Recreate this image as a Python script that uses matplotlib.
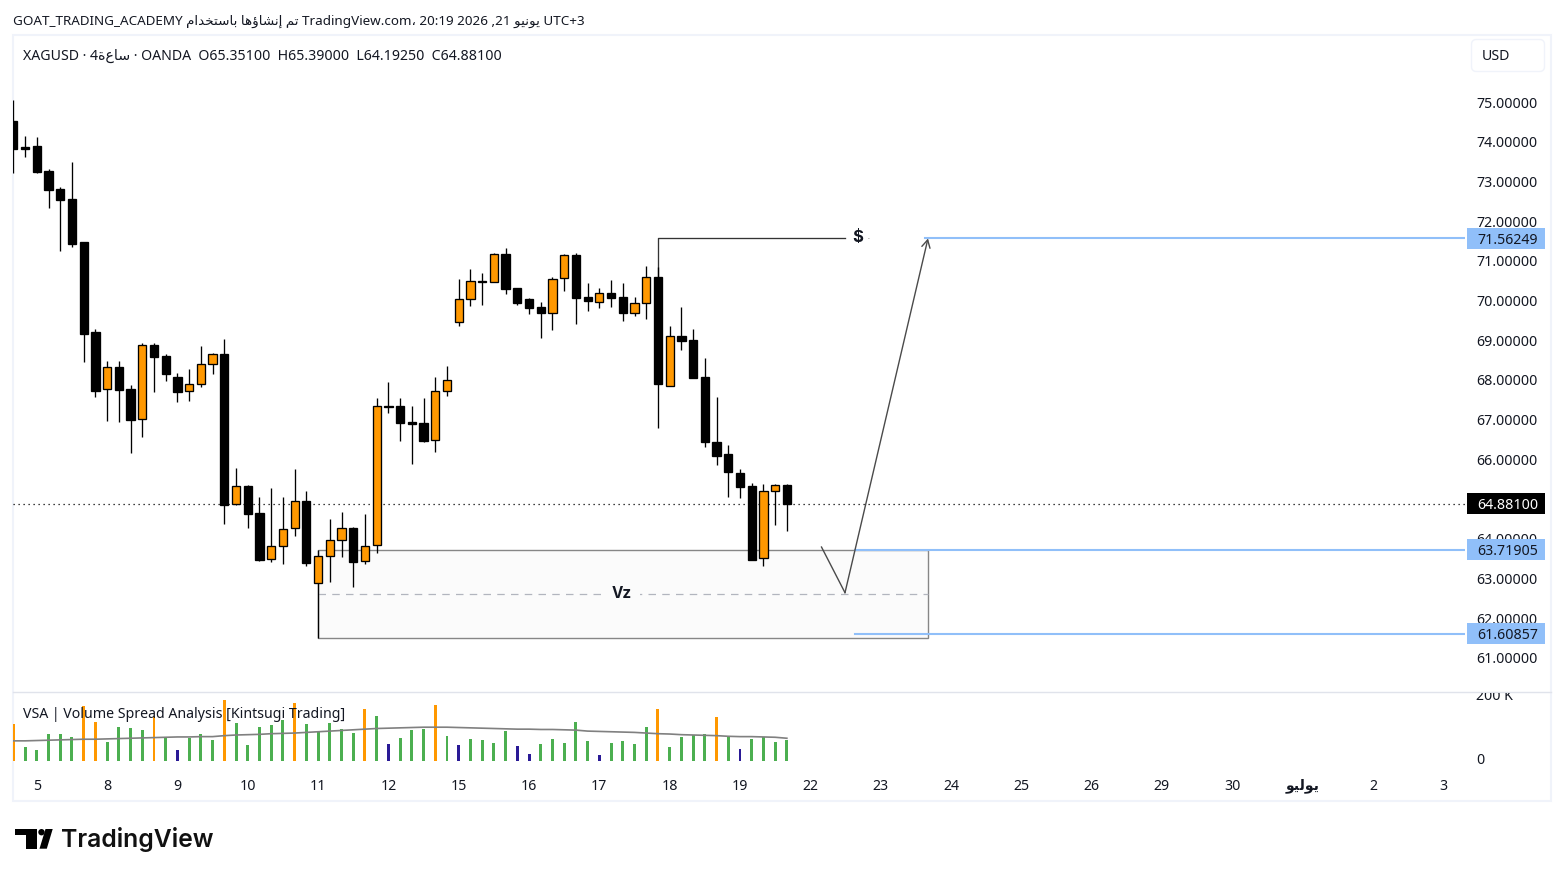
"""Rebuild the XAGUSD 4h TradingView chart with the VSA volume pane."""

from __future__ import annotations

import matplotlib

matplotlib.use("Agg")
import matplotlib.pyplot as plt
import numpy as np
from matplotlib.patches import FancyBboxPatch, Polygon, Rectangle
from matplotlib.transforms import Bbox, ScaledTranslation

plt.rcParams["font.family"] = ["Noto Sans", "DejaVu Sans"]

WIDTH, HEIGHT = 1564, 877
TEXT = "#131722"
ORANGE = "#ff9800"
BLUE = "#90bff9"
FRAME = "#f0f3fa"
LABEL_SIZE = 10.2

# candles, first one is two bars before the "5" tick
bar_index = np.arange(-2, 65)
opens = [74.52, 73.87, 73.89, 73.26, 72.81, 72.56, 71.47, 69.21, 67.76, 68.32, 67.76, 67.01, 68.88, 68.60, 68.07, 67.71,
         67.89, 68.39, 68.65, 64.87, 65.33, 64.65, 63.48, 63.81, 64.26, 64.95, 62.88, 63.56, 63.96, 64.26, 63.43, 63.83,
         67.34, 67.34, 66.95, 66.91, 66.48, 67.71, 69.45, 70.03, 70.49, 70.47, 71.17, 70.31, 70.04, 69.84, 69.69, 70.56,
         71.15, 70.09, 69.97, 70.19, 70.09, 69.69, 69.93, 70.58, 67.85, 69.10, 69.00, 68.07, 66.43, 66.13, 65.65, 65.33,
         63.51, 65.19, 65.351]
highs = [75.05, 74.14, 74.12, 73.31, 72.86, 73.49, 71.47, 69.28, 68.48, 68.48, 67.87, 68.92, 68.92, 68.64, 68.17, 68.27,
         68.85, 68.67, 69.03, 65.78, 65.35, 65.05, 65.28, 65.05, 65.76, 65.20, 63.72, 64.50, 64.67, 64.29, 64.62, 67.54,
         67.95, 67.54, 67.34, 67.54, 68.07, 68.35, 70.53, 70.79, 70.69, 71.19, 71.32, 70.31, 70.06, 69.96, 70.59, 71.16,
         71.19, 70.43, 70.31, 70.51, 70.43, 70.08, 70.86, 70.84, 69.35, 69.83, 69.27, 68.54, 67.56, 66.35, 65.75, 65.40,
         65.37, 65.37, 65.39]
lows = [73.21, 73.62, 73.22, 72.34, 71.25, 71.36, 68.46, 67.58, 66.97, 66.95, 66.17, 66.57, 67.70, 67.98, 67.45, 67.48,
        67.83, 68.16, 64.38, 64.86, 64.28, 63.45, 63.42, 63.37, 64.08, 63.32, 61.50, 62.92, 63.55, 62.79, 63.37, 63.65,
        67.17, 66.47, 65.89, 66.44, 66.19, 67.60, 69.37, 69.87, 69.89, 70.46, 70.17, 69.89, 69.67, 69.06, 69.26, 70.25,
        69.42, 69.74, 69.82, 69.84, 69.49, 69.62, 69.54, 66.80, 67.84, 68.76, 68.05, 66.32, 65.86, 65.06, 65.03, 63.46,
        63.30, 64.35, 64.1925]
closes = [73.82, 73.82, 73.24, 72.79, 72.54, 71.43, 69.16, 67.73, 68.32, 67.75, 67.00, 68.87, 68.58, 68.16, 67.70, 67.89,
          68.39, 68.64, 64.86, 65.32, 64.63, 63.47, 63.81, 64.24, 64.94, 63.40, 63.56, 63.96, 64.26, 63.42, 63.81, 67.33,
          67.32, 66.92, 66.90, 66.47, 67.71, 68.01, 70.03, 70.48, 70.47, 71.16, 70.30, 69.94, 69.82, 69.69, 70.53, 71.14,
          70.07, 69.99, 70.18, 70.06, 69.69, 69.93, 70.58, 67.90, 69.10, 68.99, 68.06, 66.44, 66.09, 65.69, 65.31, 63.47,
          65.19, 65.35, 64.881]

# VSA pane, in thousands
volumes = [114, 43, 34, 83, 83, 74, 169, 120, 58, 105, 102, 95, 139, 71, 34, 71, 83, 65, 188, 117, 49, 105, 111, 126,
           179, 114, 89, 117, 98, 86, 160, 139, 52, 71, 95, 98, 172, 77, 49, 68, 65, 55, 92, 46, 22, 52, 68, 55, 120, 62,
           18, 55, 62, 52, 105, 160, 43, 74, 80, 83, 135, 74, 37, 68, 74, 58, 65]
volume_colors = ["o", "g", "g", "g", "g", "g", "o", "o", "g", "g", "g", "g", "o", "g", "b", "g", "g", "g", "o", "g", "g",
                 "g", "g", "g", "o", "g", "g", "g", "g", "g", "o", "g", "b", "g", "g", "g", "o", "g", "b", "g", "g", "g",
                 "g", "b", "b", "g", "g", "g", "g", "g", "b", "g", "g", "g", "g", "o", "g", "g", "g", "g", "o", "g", "b",
                 "g", "g", "g", "g"]
volume_ma = [62, 62, 63, 64, 65, 66, 67, 67, 68, 69, 70, 71, 72, 73, 74, 74, 75, 75, 78, 80, 81, 82, 84, 85, 86, 88, 90,
             92, 94, 96, 98, 100, 101, 102, 103, 104, 104, 104, 103, 102, 101, 100, 99, 98, 98, 97, 97, 96, 95, 92, 91,
             90, 89, 88, 86, 84, 83, 81, 80, 79, 78, 76, 75, 75, 74, 73, 70]
volume_palette = {"g": "#4caf50", "o": ORANGE, "b": "#2a1a96"}

price_ticks = [61, 62, 63, 64, 65, 66, 67, 68, 69, 70, 71, 72, 73, 74, 75]
time_ticks = np.arange(0, 121, 6)


def visual(text: str) -> str:
    """matplotlib does no bidi, so shaped Arabic goes in reversed."""
    return text[::-1]


month_june = visual("\ufef3\ufeee\ufee7\ufef4\ufeee")
month_july = visual("\ufef3\ufeee\ufedf\ufef4\ufeee")
word_hour = visual("\ufeb3\ufe8e\ufec9\ufe93")
word_made = visual("\ufe97\ufee2")
word_created = visual("\ufe87\ufee7\ufeb8\ufe8e\ufe85\ufeeb\ufe8e")
word_using = visual("\ufe91\ufe8e\ufeb3\ufe98\ufea8\ufeaa\ufe8d\ufee1")

time_labels = ["5", "8", "9", "10", "11", "12", "15", "16", "17", "18", "19", "22", "23", "24", "25", "26", "29", "30",
               month_july, "2", "3"]

level_top = 71.56249
level_mid = 63.71905
level_low = 61.60857
last_close = 64.881
zone_low = 61.50
zone_mid = 62.60

# pixel layout of the panes
PANE_LEFT, PANE_RIGHT = 13, 1465
PRICE_TOP, PRICE_BOTTOM = 35, 692
VOLUME_BOTTOM = 770
PX_PER_BAR = 11.72
BAR_ZERO_PX = 36.8
PX_PER_PRICE = 39.7
PRICE_75_PX = 102
PX_PER_K = 0.325
VOLUME_ZERO_PX = 761


def bar_at(px: float) -> float:
    return (px - BAR_ZERO_PX) / PX_PER_BAR


def axes_rect(top: float, bottom: float) -> list[float]:
    return [PANE_LEFT / WIDTH, 1 - bottom / HEIGHT, (PANE_RIGHT - PANE_LEFT) / WIDTH, (bottom - top) / HEIGHT]


def axes_x(px: float) -> float:
    return (px - PANE_LEFT) / (PANE_RIGHT - PANE_LEFT)


def draw_page(fig) -> None:
    page = fig.add_axes([0, 0, 1, 1], zorder=0)
    page.set_xlim(0, WIDTH)
    page.set_ylim(HEIGHT, 0)
    page.axis("off")
    page.add_patch(Rectangle((13, 35), 1538, 766, fill=False, edgecolor=FRAME, linewidth=1.5))
    page.plot([13, 1551], [692, 692], color="#e0e3eb", linewidth=1.0)
    page.add_patch(FancyBboxPatch((1474, 42), 68, 27, boxstyle="round,pad=2.5,rounding_size=5",
                                  facecolor="white", edgecolor=FRAME, linewidth=1.0))
    page.text(1482, 55, "USD", fontsize=LABEL_SIZE, color=TEXT, va="center_baseline")

    header = (f"GOAT_TRADING_ACADEMY {word_using} {word_created} {word_made} TradingView.com\u060c "
              f"20:19 2026 ,21 {month_june} UTC+3")
    page.text(13, 20, header, fontsize=9.7, color=TEXT, va="center_baseline")
    legend = f"XAGUSD \u00b7 4{word_hour} \u00b7 OANDA  O65.35100  H65.39000  L64.19250  C64.88100"
    page.text(23, 54, legend, fontsize=LABEL_SIZE, color=TEXT, va="center_baseline")

    # logo
    page.add_patch(Polygon([(15, 829), (37.3, 829), (37.3, 848.7), (26, 848.7), (26, 835), (15, 835)],
                           closed=True, facecolor="black", edgecolor="none"))
    page.add_patch(plt.Circle((41.5, 832.2), 3.2, facecolor="black", edgecolor="none"))
    page.add_patch(Polygon([(45.5, 829), (52.7, 829), (46.8, 848.7), (39.5, 848.7)],
                           closed=True, facecolor="black", edgecolor="none"))
    page.text(61, 839, "TradingView", family="Inter", fontweight="semibold", fontsize=17.8, color="#111111",
              va="center")


def draw_candles(ax) -> None:
    for x, o, h, l, c in zip(bar_index, opens, highs, lows, closes):
        ax.vlines(x, l, h, color="black", linewidth=0.95, zorder=3)
        up = c > o
        ax.bar(x, abs(c - o), bottom=min(o, c), width=0.7, facecolor=ORANGE if up else "black",
               edgecolor="black", linewidth=0.95, zorder=4)


def draw_levels(ax) -> None:
    ax.add_patch(Rectangle((24, zone_low), 52, level_mid - zone_low, facecolor="#fbfbfb", edgecolor="#868686",
                           linewidth=1.0, zorder=1))
    ax.plot([24, 76], [zone_mid, zone_mid], color="#b2b5be", linewidth=0.9, dashes=(6, 5), zorder=2)
    ax.text(bar_at(622), zone_mid + 0.03, "Vz", family="Inter", fontsize=11, fontweight="bold", color=TEXT,
            ha="center", va="center", bbox={"facecolor": "#fbfbfb", "edgecolor": "none", "pad": 6}, zorder=5)

    ax.plot([53, 53, 69], [70.6, level_top, level_top], color="#333333", linewidth=0.95, zorder=3)
    ax.text(bar_at(858), level_top + 0.03, "$", family="Inter", fontsize=12, fontweight="bold", color=TEXT,
            ha="center", va="center")
    ax.text(bar_at(868), level_top + 0.02, ".", fontsize=5, color="#666666", ha="center", va="center")

    ax.axhline(last_close, color="black", linewidth=0.9, dashes=(1, 3), zorder=2)
    for level, start_bar in ((level_top, 75.8), (level_mid, 69.85), (level_low, 69.85)):
        ax.plot([start_bar, bar_at(PANE_RIGHT)], [level, level], color=BLUE, linewidth=1.5, zorder=3)

    ax.plot([bar_at(821.5), bar_at(845)], [63.79, 62.64], color="#4a4a4a", linewidth=1.0, zorder=5)
    ax.annotate("", xy=(bar_at(928), level_top), xytext=(bar_at(845), 62.64),
                arrowprops={"arrowstyle": "->,head_length=0.55,head_width=0.3", "color": "#4a4a4a", "linewidth": 1.0,
                            "shrinkA": 0, "shrinkB": 0}, zorder=5)


def draw_axis_tags(ax) -> None:
    half = 10.5 / PX_PER_PRICE
    blended = ax.get_yaxis_transform()
    box_left, box_width = axes_x(1467), axes_x(1545) - axes_x(1467)
    for level, fill, color in ((level_top, BLUE, TEXT), (level_mid, BLUE, TEXT), (level_low, BLUE, TEXT),
                               (last_close, "black", "white")):
        ax.add_patch(Rectangle((box_left, level - half), box_width, 2 * half, transform=blended, facecolor=fill,
                               edgecolor="none", clip_on=False, zorder=6))
        ax.text(axes_x(1477.5), level, f"{level:.5f}", transform=blended, fontsize=LABEL_SIZE, color=color,
                va="center_baseline", zorder=7, clip_on=False)


def main() -> None:
    fig = plt.figure(figsize=(WIDTH / 100, HEIGHT / 100), dpi=100, facecolor="white")
    draw_page(fig)

    ax = fig.add_axes(axes_rect(PRICE_TOP, PRICE_BOTTOM), zorder=1)
    ax.patch.set_alpha(0)
    ax.set_xlim(bar_at(PANE_LEFT), bar_at(PANE_RIGHT))
    ax.set_ylim(75 - (PRICE_BOTTOM - PRICE_75_PX) / PX_PER_PRICE, 75 + (PRICE_75_PX - PRICE_TOP) / PX_PER_PRICE)
    for spine in ax.spines.values():
        spine.set_visible(False)
    ax.set_xticks([])
    ax.yaxis.tick_right()
    ax.set_yticks(price_ticks, [f"{p:.5f}" for p in price_ticks])
    ax.tick_params(axis="y", length=0, pad=8.0, labelsize=LABEL_SIZE, labelcolor=TEXT)
    draw_levels(ax)
    draw_candles(ax)
    draw_axis_tags(ax)

    vol = fig.add_axes(axes_rect(PRICE_BOTTOM, VOLUME_BOTTOM), zorder=2)
    vol.patch.set_alpha(0)
    vol.set_xlim(bar_at(PANE_LEFT), bar_at(PANE_RIGHT))
    vol.set_ylim(-(VOLUME_BOTTOM - VOLUME_ZERO_PX) / PX_PER_K, (VOLUME_ZERO_PX - PRICE_BOTTOM) / PX_PER_K)
    for spine in vol.spines.values():
        spine.set_visible(False)
    vol.bar(bar_index, volumes, width=0.25, color=[volume_palette[c] for c in volume_colors], zorder=2)
    vol.plot(bar_index, volume_ma, color="#808080", linewidth=1.2, zorder=3)
    vol.yaxis.tick_right()
    vol.set_yticks([0, 200], ["0", "200 K"])
    vol.tick_params(axis="y", length=0, pad=8.0, labelsize=LABEL_SIZE, labelcolor=TEXT)
    pane_clip = Bbox.from_extents(0, 0, WIDTH, HEIGHT - PRICE_BOTTOM - 1)
    for label, lift_px in zip(vol.get_yticklabels(), (2, 1)):
        label.set_transform(label.get_transform() + ScaledTranslation(0, lift_px * 0.72 / 72, fig.dpi_scale_trans))
        label.set_clip_box(pane_clip)
        label.set_clip_on(True)
    vol.set_xticks(time_ticks, time_labels)
    vol.tick_params(axis="x", length=0, pad=6.2, labelsize=LABEL_SIZE, labelcolor=TEXT)
    vol.get_xticklabels()[18].set_fontweight("bold")
    vol.text(axes_x(23), 1 - 21 / (VOLUME_BOTTOM - PRICE_BOTTOM), "VSA | Volume Spread Analysis [Kintsugi Trading]",
             transform=vol.transAxes, fontsize=LABEL_SIZE, color=TEXT, va="center_baseline", zorder=5)

    fig.savefig("out.png", dpi=100)


if __name__ == "__main__":
    main()
